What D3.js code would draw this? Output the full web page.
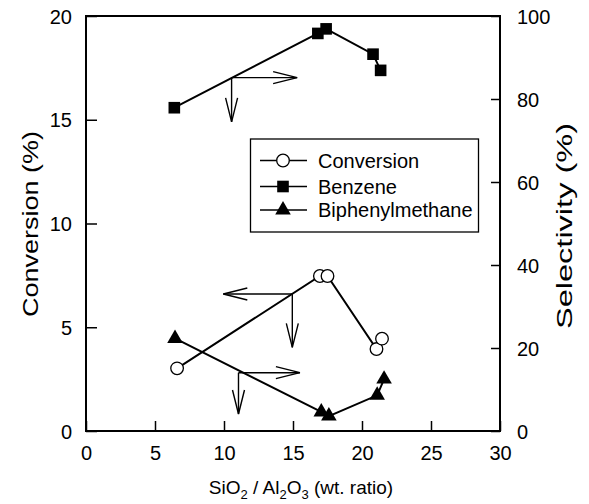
<!DOCTYPE html>
<html>
<head>
<meta charset="utf-8">
<script src="https://cdn.jsdelivr.net/npm/d3@7/dist/d3.min.js"></script>
<style>
  html, body { margin: 0; padding: 0; background: #fff; }
  svg text { font-family: "Liberation Sans", Arial, Helvetica, sans-serif; fill: #000; }
</style>
</head>
<body>
<svg id="chart" width="589" height="504"></svg>
<script>
// ---- data ----
const conversionX = [6.6, 16.95, 17.5, 21.05, 21.45];      // SiO2/Al2O3 (wt. ratio)
const conversion = [3.02, 7.47, 7.47, 3.95, 4.45];          // left axis (%)
const benzeneX = [6.4, 16.8, 17.4, 20.8, 21.35];
const benzene = [77.9, 95.8, 96.9, 90.8, 86.9];             // right axis (%)
const biphenylX = [6.45, 17.05, 17.6, 21.1, 21.6];
const biphenylmethane = [22.3, 4.6, 3.6, 8.6, 12.5];        // right axis (%)

const xTicks = [0, 5, 10, 15, 20, 25, 30];
const yLeftTicks = [0, 5, 10, 15, 20];
const yRightTicks = [0, 20, 40, 60, 80, 100];
const legendLabels = ["Conversion", "Benzene", "Biphenylmethane"];

// axis-pointer arrows: [junction x, junction y (left-axis units), horizontal end x, vertical end y]
const arrows = [
  { jx: 10.55, jy: 17.03, hx: 15.3, vy: 14.9 },  // benzene -> right axis
  { jx: 14.95, jy: 6.6, hx: 9.95, vy: 4.03 },    // conversion -> left axis
  { jx: 11.05, jy: 2.81, hx: 15.5, vy: 0.82 }    // biphenylmethane -> right axis
];

// ---- layout ----
const L = 86, R = 500, T = 16, B = 431;
const svg = d3.select("#chart");

const x = d3.scaleLinear().domain([0, 30]).range([L, R]);
const yL = d3.scaleLinear().domain([0, 20]).range([B, T]);
const yR = d3.scaleLinear().domain([0, 100]).range([B, T]);

const tickFont = 20;

// frame
svg.append("rect").attr("x", L).attr("y", T).attr("width", R - L).attr("height", B - T)
  .attr("fill", "none").attr("stroke", "#000").attr("stroke-width", 2);

// axes with inward ticks
const xAxis = svg.append("g").attr("transform", `translate(0,${B})`)
  .call(d3.axisTop(x).tickValues(xTicks).tickSize(10).tickFormat(d3.format("d")));
xAxis.select(".domain").remove();
xAxis.selectAll("line").attr("stroke", "#000").attr("stroke-width", 1.5);
xAxis.selectAll("text").remove();
xAxis.selectAll(".tick").append("text")
  .attr("y", 29).attr("text-anchor", "middle")
  .attr("font-size", tickFont).text(d => d);

const yLAxis = svg.append("g").attr("transform", `translate(${L},0)`)
  .call(d3.axisRight(yL).tickValues(yLeftTicks).tickSize(11));
yLAxis.select(".domain").remove();
yLAxis.selectAll("line").attr("stroke", "#000").attr("stroke-width", 1.5);
yLAxis.selectAll("text").remove();
yLAxis.selectAll(".tick").append("text")
  .attr("x", -14).attr("dy", "0.35em").attr("text-anchor", "end")
  .attr("font-size", tickFont).text(d => d);

const yRAxis = svg.append("g").attr("transform", `translate(${R},0)`)
  .call(d3.axisLeft(yR).tickValues(yRightTicks).tickSize(9));
yRAxis.select(".domain").remove();
yRAxis.selectAll("line").attr("stroke", "#000").attr("stroke-width", 1.5);
yRAxis.selectAll("text").remove();
yRAxis.selectAll(".tick").append("text")
  .attr("x", 17).attr("dy", "0.35em").attr("text-anchor", "start")
  .attr("font-size", tickFont).text(d => d);

// axis titles
svg.append("text").attr("transform", `translate(38,224) rotate(-90)`)
  .attr("text-anchor", "middle").attr("font-size", 22)
  .attr("textLength", 186).attr("lengthAdjust", "spacingAndGlyphs").text("Conversion (%)");
svg.append("text").attr("transform", `translate(572,226) rotate(-90)`)
  .attr("text-anchor", "middle").attr("font-size", 22)
  .attr("textLength", 206).attr("lengthAdjust", "spacingAndGlyphs").text("Selectivity (%)");

const xt = svg.append("text").attr("x", (L + R) / 2 + 8).attr("y", 494)
  .attr("text-anchor", "middle").attr("font-size", 19);
xt.append("tspan").text("SiO");
xt.append("tspan").attr("font-size", 13).attr("dy", 5).text("2");
xt.append("tspan").attr("dy", -5).text(" / Al");
xt.append("tspan").attr("font-size", 13).attr("dy", 5).text("2");
xt.append("tspan").attr("dy", -5).text("O");
xt.append("tspan").attr("font-size", 13).attr("dy", 5).text("3");
xt.append("tspan").attr("dy", -5).text(" (wt. ratio)");

// ---- arrows ----
function arrowHead(g, x1, y1, x2, y2) {
  const ang = Math.atan2(y2 - y1, x2 - x1);
  const len = 24, half = 6;
  const bx = x2 - len * Math.cos(ang), by = y2 - len * Math.sin(ang);
  const px = -Math.sin(ang) * half, py = Math.cos(ang) * half;
  g.append("path")
    .attr("d", `M${bx + px},${by + py}L${x2},${y2}L${bx - px},${by - py}`)
    .attr("fill", "none").attr("stroke", "#000").attr("stroke-width", 1.4);
}
const ag = svg.append("g");
arrows.forEach(a => {
  const jx = x(a.jx), jy = yL(a.jy), hx = x(a.hx), vy = yL(a.vy);
  ag.append("line").attr("x1", jx).attr("y1", jy).attr("x2", hx).attr("y2", jy)
    .attr("stroke", "#000").attr("stroke-width", 1.4);
  ag.append("line").attr("x1", jx).attr("y1", jy).attr("x2", jx).attr("y2", vy)
    .attr("stroke", "#000").attr("stroke-width", 1.4);
  arrowHead(ag, jx, jy, hx, jy);
  arrowHead(ag, jx, jy, jx, vy);
});

// ---- series ----
const convPts = conversionX.map((d, i) => [x(d), yL(conversion[i])]);
const benzPts = benzeneX.map((d, i) => [x(d), yR(benzene[i])]);
const biphPts = biphenylX.map((d, i) => [x(d), yR(biphenylmethane[i])]);
const line = d3.line();

[convPts, benzPts, biphPts].forEach(p => {
  svg.append("path").attr("d", line(p)).attr("fill", "none")
    .attr("stroke", "#000").attr("stroke-width", 2);
});

const sq = d3.symbol().type(d3.symbolSquare).size(135);
const tri = d3.symbol().type(d3.symbolTriangle).size(105);

svg.append("g").selectAll("path").data(benzPts).join("path")
  .attr("transform", d => `translate(${d[0]},${d[1]})`).attr("d", sq).attr("fill", "#000");
svg.append("g").selectAll("path").data(biphPts).join("path")
  .attr("transform", d => `translate(${d[0]},${d[1]})`).attr("d", tri).attr("fill", "#000");
svg.append("g").selectAll("circle").data(convPts).join("circle")
  .attr("cx", d => d[0]).attr("cy", d => d[1]).attr("r", 6.3)
  .attr("fill", "#fff").attr("stroke", "#000").attr("stroke-width", 1.3);

// ---- legend ----
const lg = svg.append("g");
lg.append("rect").attr("x", 250.5).attr("y", 139).attr("width", 228).attr("height", 93)
  .attr("fill", "#fff").attr("stroke", "#000").attr("stroke-width", 1.3);
const rowsY = [160.5, 186.5, 210];
legendLabels.forEach((lab, i) => {
  const yy = rowsY[i];
  lg.append("line").attr("x1", 260).attr("x2", 307).attr("y1", yy).attr("y2", yy)
    .attr("stroke", "#000").attr("stroke-width", 1.5);
  if (i === 0) {
    lg.append("circle").attr("cx", 283).attr("cy", yy).attr("r", 6.3)
      .attr("fill", "#fff").attr("stroke", "#000").attr("stroke-width", 1.3);
  } else if (i === 1) {
    lg.append("path").attr("transform", `translate(283,${yy})`).attr("d", sq).attr("fill", "#000");
  } else {
    lg.append("path").attr("transform", `translate(283,${yy})`).attr("d", tri).attr("fill", "#000");
  }
  lg.append("text").attr("x", 318).attr("y", yy).attr("dy", "0.36em")
    .attr("font-size", 20).text(lab);
});
</script>
</body>
</html>
